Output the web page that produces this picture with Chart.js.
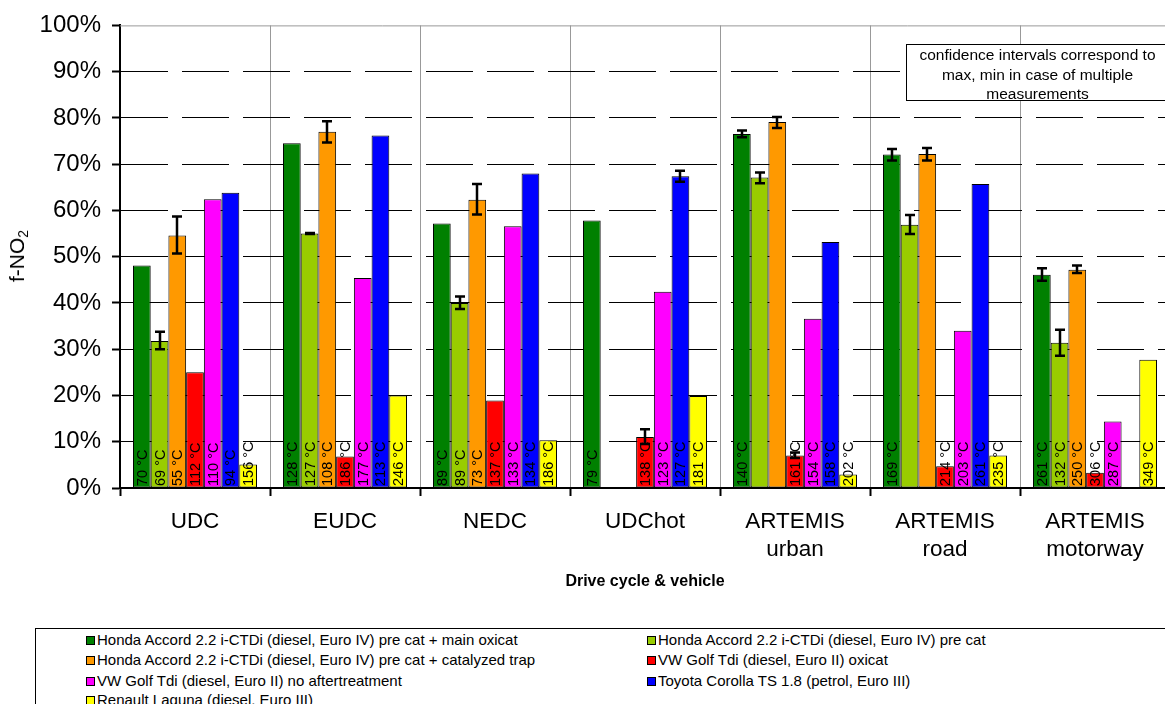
<!DOCTYPE html>
<html>
<head>
<meta charset="utf-8">
<script src="https://cdn.jsdelivr.net/npm/chart.js@4.4.1/dist/chart.umd.min.js"></script>
<style>
  html, body { margin: 0; padding: 0; background: #fff; overflow: hidden; width: 1165px; height: 704px; }
  #wrap { position: relative; width: 1180px; height: 704px; font-family: "Liberation Sans", Arial, sans-serif; }
  #c { position: absolute; left: 0; top: 0; }
  #ytitle { position: absolute; left: 18px; top: 256px; transform: translate(-50%, -50%) rotate(-90deg); font-size: 21px; white-space: nowrap; color: #000; }
  #ytitle sub { font-size: 14px; vertical-align: -4px; }
  #note { position: absolute; left: 906px; top: 44px; width: 263px; height: 57px; border: 1px solid #000; box-sizing: border-box; text-align: center; font-size: 15.5px; line-height: 19.5px; color: #000; background: #fff; }
  #legend { position: absolute; left: 35px; top: 628px; width: 1140px; height: 90px; border: 1px solid #000; box-sizing: border-box; }
  .li { position: absolute; font-size: 15px; line-height: 16px; height: 16px; white-space: nowrap; color: #000; }
  .li i { position: absolute; left: -11px; top: 4px; width: 7px; height: 7px; border: 1px solid #000; }
</style>
</head>
<body>
<div id="wrap">
  <canvas id="c" width="1180" height="610"></canvas>
  <div id="ytitle">f-NO<sub>2</sub></div>
  <div id="note">confidence intervals correspond to<br>max, min in case of multiple<br>measurements</div>
  <div id="legend"></div>
</div>
<script>
// ---- Data ----
const categories = [["UDC"], ["EUDC"], ["NEDC"], ["UDChot"], ["ARTEMIS", "urban"], ["ARTEMIS", "road"], ["ARTEMIS", "motorway"]];

const seriesNames = [
  "Honda Accord 2.2 i-CTDi (diesel, Euro IV) pre cat + main oxicat",
  "Honda Accord 2.2 i-CTDi (diesel, Euro IV) pre cat",
  "Honda Accord 2.2 i-CTDi (diesel, Euro IV) pre cat + catalyzed trap",
  "VW Golf Tdi (diesel, Euro II) oxicat",
  "VW Golf Tdi (diesel, Euro II) no aftertreatment",
  "Toyota Corolla TS 1.8 (petrol, Euro III)",
  "Renault Laguna (diesel, Euro III)"
];
const seriesColors = ["#008000", "#99CC00", "#FF9900", "#FF0000", "#FF00FF", "#0000FF", "#FFFF00"];

// f-NO2 values (%)
const hondaMain  = [48.1, 74.5, 57.2, 57.8, 76.5, 72.1, 46.1];
const hondaPre   = [31.8, 55.0, 40.0, null, 67.1, 56.9, 31.4];
const hondaTrap  = [54.6, 77.0, 62.3, null, 79.1, 72.2, 47.2];
const golfOxicat = [25.0, 6.8, 18.9, 11.0, 7.0, 4.7, 3.3];
const golfNone   = [62.4, 45.4, 56.6, 42.4, 36.6, 34.0, 14.4];
const corolla    = [63.8, 76.2, 68.0, 67.4, 53.2, 65.7, null];
const laguna     = [5.1, 20.0, 10.3, 19.9, 2.9, 7.0, 27.7];

// confidence intervals (min / max, %)
const hondaMainMin  = [null, null, null, null, 75.8, 70.8, 44.8];
const hondaMainMax  = [null, null, null, null, 77.3, 73.3, 47.5];
const hondaPreMin   = [30.0, 54.9, 38.7, null, 65.9, 54.9, 28.6];
const hondaPreMax   = [33.8, 55.1, 41.4, null, 68.2, 59.0, 34.2];
const hondaTrapMin  = [50.7, 74.7, 59.1, null, 77.8, 70.8, 46.5];
const hondaTrapMax  = [58.7, 79.3, 65.7, null, 80.2, 73.5, 48.1];
const golfOxicatMin = [null, null, null, 9.5, 6.5, null, null];
const golfOxicatMax = [null, null, null, 12.7, 7.7, null, null];
const golfNoneMin   = [null, null, null, null, null, null, null];
const golfNoneMax   = [null, null, null, null, null, null, null];
const corollaMin    = [null, null, null, 66.2, null, null, null];
const corollaMax    = [null, null, null, 68.6, null, null, null];
const lagunaMin     = [null, null, null, null, null, null, null];
const lagunaMax     = [null, null, null, null, null, null, null];

// exhaust temperatures (°C)
const tempHondaMain  = [70, 128, 89, 79, 140, 169, 261];
const tempHondaPre   = [69, 127, 89, null, null, null, 132];
const tempHondaTrap  = [55, 108, 73, null, null, null, 250];
const tempGolfOxicat = [112, 186, 137, 138, 161, 214, 306];
const tempGolfNone   = [110, 177, 133, 123, 154, 203, 287];
const tempCorolla    = [94, 213, 134, 127, 158, 261, null];
const tempLaguna     = [156, 246, 186, 181, 202, 235, 349];

const yTicks = [0, 10, 20, 30, 40, 50, 60, 70, 80, 90, 100];

// ---- Build ----
const values = [hondaMain, hondaPre, hondaTrap, golfOxicat, golfNone, corolla, laguna];
const mins = [hondaMainMin, hondaPreMin, hondaTrapMin, golfOxicatMin, golfNoneMin, corollaMin, lagunaMin];
const maxs = [hondaMainMax, hondaPreMax, hondaTrapMax, golfOxicatMax, golfNoneMax, corollaMax, lagunaMax];
const temps = [tempHondaMain, tempHondaPre, tempHondaTrap, tempGolfOxicat, tempGolfNone, tempCorolla, tempLaguna];

const FONT = '"Liberation Sans", Arial, sans-serif';

const datasets = values.map((v, i) => ({
  label: seriesNames[i],
  data: v,
  backgroundColor: seriesColors[i],
  borderColor: "#000",
  borderWidth: 1,
  borderSkipped: false,
  categoryPercentage: 0.827,
  barPercentage: 1.0
}));

const overlay = {
  id: "overlay",
  beforeDatasetsDraw(chart) {
    const { ctx, chartArea } = chart;
    ctx.save();
    ctx.strokeStyle = "#999";
    ctx.lineWidth = 1;
    ctx.beginPath();
    ctx.moveTo(chartArea.left, chartArea.top + 0.5);
    ctx.lineTo(chartArea.right, chartArea.top + 0.5);
    ctx.stroke();
    ctx.restore();
  },
  afterDatasetsDraw(chart) {
    const { ctx } = chart;
    const y = chart.scales.y;
    const y0 = y.getPixelForValue(0);
    ctx.save();
    ctx.font = "14.5px " + FONT;
    ctx.fillStyle = "#000";
    ctx.textAlign = "left";
    ctx.textBaseline = "middle";
    chart.data.datasets.forEach((ds, i) => {
      const meta = chart.getDatasetMeta(i);
      meta.data.forEach((bar, j) => {
        const t = temps[i][j];
        if (t == null) return;
        ctx.save();
        ctx.translate(bar.x + 1, y0 - 2);
        ctx.rotate(-Math.PI / 2);
        ctx.fillText(t + " °C", 0, 0);
        ctx.restore();
      });
    });
    ctx.strokeStyle = "#000";
    ctx.lineWidth = 2.5;
    chart.data.datasets.forEach((ds, i) => {
      const meta = chart.getDatasetMeta(i);
      meta.data.forEach((bar, j) => {
        const lo = mins[i][j], hi = maxs[i][j];
        if (lo == null || hi == null) return;
        const x = Math.round(bar.x);
        const yl = y.getPixelForValue(lo), yh = y.getPixelForValue(hi);
        ctx.beginPath();
        ctx.moveTo(x, yl); ctx.lineTo(x, yh);
        ctx.moveTo(x - 5, yl); ctx.lineTo(x + 5, yl);
        ctx.moveTo(x - 5, yh); ctx.lineTo(x + 5, yh);
        ctx.stroke();
      });
    });
    ctx.restore();
  }
};

new Chart(document.getElementById("c"), {
  type: "bar",
  data: { labels: categories, datasets },
  plugins: [overlay],
  options: {
    responsive: false,
    animation: false,
    devicePixelRatio: 1,
    layout: { padding: { top: 23, right: 10, left: 0, bottom: 0 } },
    plugins: { legend: { display: false }, tooltip: { enabled: false } },
    scales: {
      x: {
        offset: true,
        grid: { offset: true, color: "#999", lineWidth: 1, tickColor: "#000", tickWidth: 2, tickLength: 8 },
        border: { color: "#000", width: 2 },
        ticks: { color: "#000", font: { family: FONT, size: 22.5, lineHeight: 1.25 }, padding: 12, maxRotation: 0, autoSkip: false },
        title: { display: true, text: "Drive cycle & vehicle", color: "#000", font: { family: FONT, size: 16, weight: "bold" }, padding: { top: 0, bottom: 19 } },
        afterFit(scale) { scale.height = 122; }
      },
      y: {
        min: 0, max: 100,
        afterBuildTicks(scale) { scale.ticks = yTicks.map(v => ({ value: v })); },
        grid: {
          color: (c) => (c.tick && c.tick.value === 100 ? "rgba(0,0,0,0)" : "#000"),
          lineWidth: 1, tickColor: "#000", tickWidth: 2, tickLength: 8
        },
        border: { color: "#000", width: 2, dash: [47, 14] },
        ticks: { color: "#000", font: { family: FONT, size: 24 }, padding: 11, callback: (v) => v + "%" },
        afterFit(scale) { scale.width = 120; }
      }
    }
  }
});

// HTML legend (two columns)
const legend = document.getElementById("legend");
const rowTops = [3, 23, 44, 63];
seriesNames.forEach((name, i) => {
  const col = i % 2, row = Math.floor(i / 2);
  const d = document.createElement("div");
  d.className = "li";
  d.style.left = (col === 0 ? 61 : 622) + "px";
  d.style.top = rowTops[row] + "px";
  const m = document.createElement("i");
  m.style.background = seriesColors[i];
  d.appendChild(m);
  d.appendChild(document.createTextNode(name));
  legend.appendChild(d);
});
</script>
</body>
</html>
